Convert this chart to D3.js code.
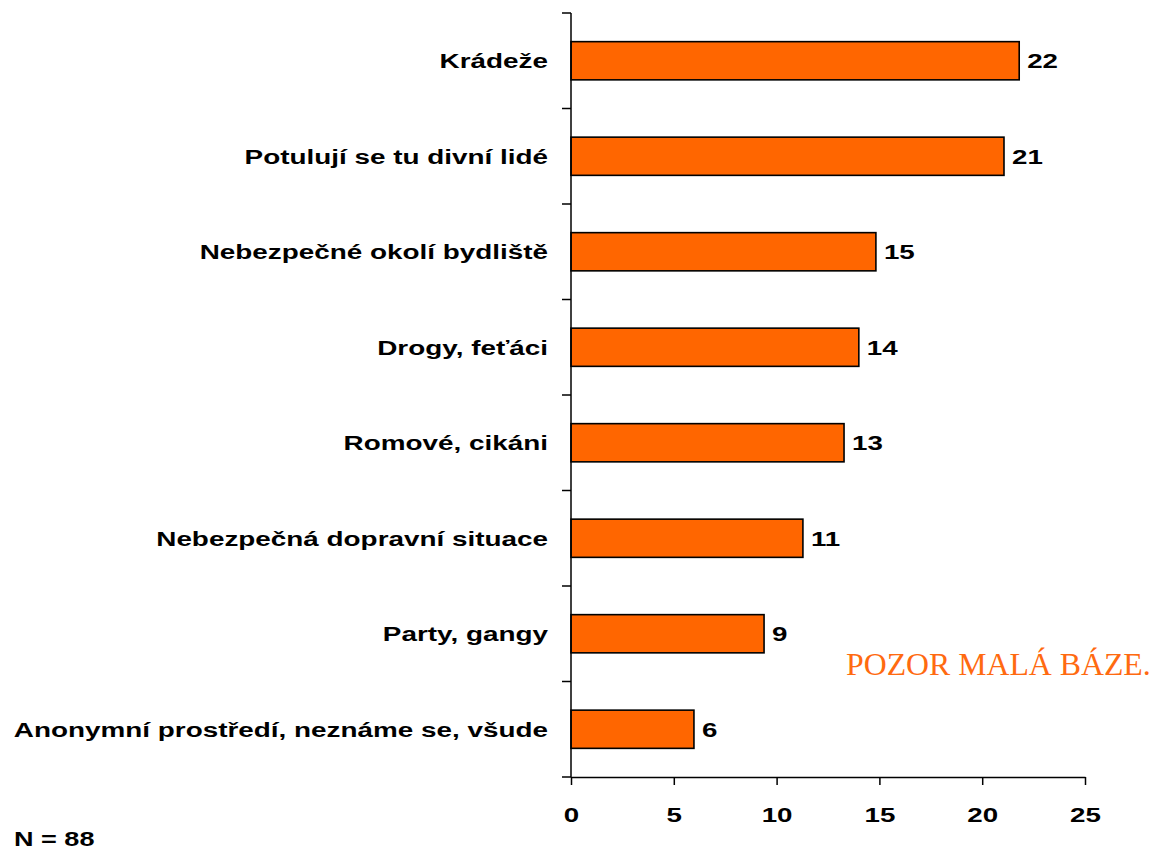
<!DOCTYPE html>
<html>
<head>
<meta charset="utf-8">
<script src="https://cdn.jsdelivr.net/npm/d3@7"></script>
<style>
  body { margin: 0; background: #fff; }
  text { font-family: "Liberation Sans", Arial, sans-serif; }
</style>
</head>
<body>
<div class="chart"></div>
<script>
// categories and values
var categories = [
  'Krádeže',
  'Potulují se tu divní lidé',
  'Nebezpečné okolí bydliště',
  'Drogy, feťáci',
  'Romové, cikáni',
  'Nebezpečná dopravní situace',
  'Party, gangy',
  'Anonymní prostředí, neznáme se, všude'
];
var values = [21.8, 21.06, 14.83, 14.0, 13.28, 11.28, 9.39, 5.98];
var valueLabels = ['22', '21', '15', '14', '13', '11', '9', '6'];
var xTicks = [0, 5, 10, 15, 20, 25];

// the original font is a wide-set Arial, so text gets stretched sideways
var stretch = 1.32;
var catStretch = 1.36;

var svg = d3.select('.chart').append('svg')
  .attr('width', 1155)
  .attr('height', 850);

var x = d3.scaleLinear()
  .domain([0, 25])
  .range([571, 1085]);

var y = d3.scaleBand()
  .domain(categories)
  .range([13, 777])
  .paddingInner(0.6)
  .paddingOuter(0.3);

// bars
svg.selectAll('rect.bar')
  .data(values)
  .enter()
  .append('rect')
    .attr('class', 'bar')
    .attr('x', x(0))
    .attr('y', function(d, i) { return y(categories[i]); })
    .attr('width', function(d) { return x(d) - x(0); })
    .attr('height', y.bandwidth())
    .attr('fill', '#ff6600')
    .attr('stroke', '#000')
    .attr('stroke-width', 1.6);

// value labels
svg.selectAll('g.val')
  .data(values)
  .enter()
  .append('g')
    .attr('class', 'val')
    .attr('transform', function(d, i) {
      return 'translate(' + (x(d) + 8) + ',' + (y(categories[i]) + y.bandwidth() / 2) + ') scale(' + stretch + ',1)';
    })
  .append('text')
    .attr('dy', '0.36em')
    .attr('font-size', 21)
    .attr('font-weight', 'bold')
    .text(function(d, i) { return valueLabels[i]; });

// y axis: ticks at band boundaries
var boundaries = d3.range(categories.length + 1).map(function(i) { return 13 + i * (764 / categories.length); });
svg.append('line')
  .attr('x1', x(0)).attr('x2', x(0))
  .attr('y1', 13).attr('y2', 777)
  .attr('stroke', '#000').attr('stroke-width', 1.5);
svg.selectAll('line.ytick')
  .data(boundaries)
  .enter()
  .append('line')
    .attr('class', 'ytick')
    .attr('x1', x(0) - 9).attr('x2', x(0))
    .attr('y1', function(d) { return d; })
    .attr('y2', function(d) { return d; })
    .attr('stroke', '#000').attr('stroke-width', 1.5);

// category labels
svg.selectAll('g.cat')
  .data(categories)
  .enter()
  .append('g')
    .attr('class', 'cat')
    .attr('transform', function(d) {
      return 'translate(548,' + (y(d) + y.bandwidth() / 2) + ') scale(' + catStretch + ',1)';
    })
  .append('text')
    .attr('dy', '0.36em')
    .attr('text-anchor', 'end')
    .attr('font-size', 20.5)
    .attr('font-weight', 'bold')
    .text(function(d) { return d; });

// x axis
var xAxis = svg.append('g')
  .attr('transform', 'translate(0,777)')
  .call(d3.axisBottom(x).tickValues(xTicks).tickSize(8).tickSizeOuter(0).tickPadding(22));
xAxis.select('.domain').attr('stroke-width', 1.5);
xAxis.selectAll('.tick line').attr('stroke-width', 1.5);
xAxis.selectAll('.tick text')
  .attr('font-size', 21)
  .attr('font-weight', 'bold')
  .attr('font-family', '"Liberation Sans", Arial, sans-serif')
  .attr('fill', '#000')
  .attr('transform', 'scale(' + stretch + ',1)');

// notes
svg.append('g')
  .attr('transform', 'translate(14,846) scale(' + stretch + ',1)')
  .append('text')
    .attr('font-size', 20.5)
    .attr('font-weight', 'bold')
    .text('N = 88');

svg.append('text')
  .attr('x', 846).attr('y', 675)
  .attr('font-size', 31.8)
  .attr('fill', '#ff6a10')
  .style('font-family', '"Liberation Serif", "Times New Roman", serif')
  .text('POZOR MALÁ BÁZE.');
</script>
</body>
</html>
